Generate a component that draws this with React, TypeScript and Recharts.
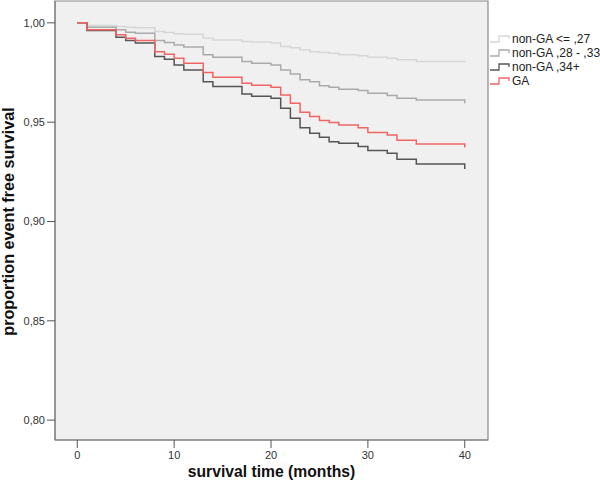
import React from 'react';
import {
    LineChart,
    Line,
    XAxis,
    YAxis,
    Legend,
    ReferenceArea,
} from 'recharts';

// follow-up months where any of the curves steps (40 twice for the final censor drop)
const months = [0, 1, 4, 5, 6, 8, 9, 10, 11, 13, 14, 17, 18, 20, 21, 22, 23, 24, 25, 26, 27, 29, 30, 32, 33, 35, 40, 40];

const lowGroup = [1.0, 0.9987, 0.9982, 0.9978, 0.9975, 0.9956, 0.9952, 0.9945, 0.9942, 0.9923, 0.9914, 0.9906, 0.9903, 0.9898, 0.9881, 0.9875, 0.9864, 0.9855, 0.9851, 0.9847, 0.9839, 0.9834, 0.9827, 0.9822, 0.9814, 0.9805, 0.9805, 0.9802];
const midGroup = [1.0, 0.9978, 0.9965, 0.9953, 0.9948, 0.9911, 0.9901, 0.9889, 0.9878, 0.9839, 0.9827, 0.9805, 0.9797, 0.9788, 0.9763, 0.9743, 0.9713, 0.9704, 0.9683, 0.9676, 0.9666, 0.9659, 0.9646, 0.9634, 0.9621, 0.9612, 0.9612, 0.9595];
const highGroup = [1.0, 0.9961, 0.9928, 0.9911, 0.9898, 0.983, 0.9817, 0.9788, 0.9763, 0.9704, 0.9679, 0.9642, 0.963, 0.962, 0.957, 0.952, 0.9472, 0.9444, 0.9424, 0.9402, 0.9394, 0.9377, 0.9357, 0.9343, 0.9313, 0.929, 0.929, 0.9264];
const gaGroup = [1.0, 0.9965, 0.994, 0.9923, 0.9911, 0.9855, 0.9842, 0.9822, 0.9797, 0.975, 0.9726, 0.9696, 0.9686, 0.9676, 0.9637, 0.9595, 0.955, 0.9528, 0.9508, 0.9498, 0.9486, 0.9472, 0.9448, 0.9436, 0.9409, 0.939, 0.939, 0.9373];

const xTicks = [0, 10, 20, 30, 40];
const yTicks = [0.8, 0.85, 0.9, 0.95, 1.0];

const series = [
    { key: 'low', name: 'non-GA <= ,27', color: '#d6d6d6' },
    { key: 'mid', name: 'non-GA ,28 - ,33', color: '#aaaaaa' },
    { key: 'high', name: 'non-GA ,34+', color: '#555555' },
    { key: 'ga', name: 'GA', color: '#f06464' },
];

const data = months.map((m, i) => ({
    month: m,
    low: lowGroup[i],
    mid: midGroup[i],
    high: highGroup[i],
    ga: gaGroup[i],
}));

const X_DOMAIN: [number, number] = [-2.3, 42.4];
const Y_DOMAIN: [number, number] = [0.79, 1.011];

const sansFont = '"Liberation Sans", Arial, sans-serif';
const tickStyle = { fill: '#333', fontSize: 11, fontFamily: sansFont };

const StepLegend = () => (
    <div style={{ fontFamily: sansFont, fontSize: 12, color: '#222' }}>
        {series.map((s) => (
            <div key={s.key} style={{ display: 'flex', alignItems: 'center', height: 14, lineHeight: '14px' }}>
                <svg width={24} height={14} style={{ flex: 'none' }}>
                    <path d="M2,10 H11 V4 H21 V7" fill="none" stroke={s.color} strokeWidth={1.3} />
                </svg>
                <span style={{ whiteSpace: 'nowrap' }}>{s.name}</span>
            </div>
        ))}
    </div>
);

const YTitle = (props: any) => {
    const vb = props.viewBox || { x: 0, y: 0, width: 55, height: 440 };
    const cx = vb.x + 14;
    const cy = vb.y + vb.height / 2 + 1;
    return (
        <text
            x={cx}
            y={cy}
            transform={`rotate(-90, ${cx}, ${cy})`}
            textAnchor="middle"
            fontFamily={sansFont}
            fontWeight="bold"
            fontSize={16.2}
            fill="#111"
        >
            proportion event free survival
        </text>
    );
};

export default function App() {
    return (
        <div style={{ position: 'absolute', left: 0, top: 0, width: 600, height: 491, background: '#fff' }}>
            <LineChart
                width={600}
                height={491}
                data={data}
                margin={{ top: 1, right: 0, bottom: 0, left: 0 }}
            >
                <ReferenceArea
                    x1={X_DOMAIN[0]}
                    x2={X_DOMAIN[1]}
                    y1={Y_DOMAIN[0]}
                    y2={Y_DOMAIN[1]}
                    fill="#f0f0f0"
                    fillOpacity={1}
                    stroke="#8a8a8a"
                    strokeWidth={1.2}
                    ifOverflow="visible"
                />
                <XAxis
                    type="number"
                    dataKey="month"
                    domain={X_DOMAIN}
                    ticks={xTicks}
                    allowDataOverflow
                    height={51}
                    tickSize={8}
                    tickMargin={3}
                    tick={tickStyle}
                    axisLine={{ stroke: '#777' }}
                    tickLine={{ stroke: '#555' }}
                    label={{
                        value: 'survival time (months)',
                        position: 'insideBottom',
                        offset: 14,
                        fontFamily: sansFont,
                        fontWeight: 'bold',
                        fontSize: 15.7,
                        fill: '#111',
                    }}
                />
                <YAxis
                    type="number"
                    domain={Y_DOMAIN}
                    ticks={yTicks}
                    allowDataOverflow
                    width={55}
                    tickSize={8}
                    tickMargin={2}
                    tick={tickStyle}
                    tickFormatter={(v: number) => v.toFixed(2).replace('.', ',')}
                    axisLine={{ stroke: '#777' }}
                    tickLine={{ stroke: '#555' }}
                    label={{ content: YTitle }}
                />
                <Legend
                    layout="vertical"
                    align="right"
                    verticalAlign="top"
                    content={<StepLegend />}
                    wrapperStyle={{ left: 488, top: 32, width: 112 }}
                />
                {series.map((s) => (
                    <Line
                        key={s.key}
                        type="stepAfter"
                        dataKey={s.key}
                        name={s.name}
                        stroke={s.color}
                        strokeWidth={1.5}
                        dot={false}
                        activeDot={false}
                        isAnimationActive={false}
                    />
                ))}
            </LineChart>
        </div>
    );
}
